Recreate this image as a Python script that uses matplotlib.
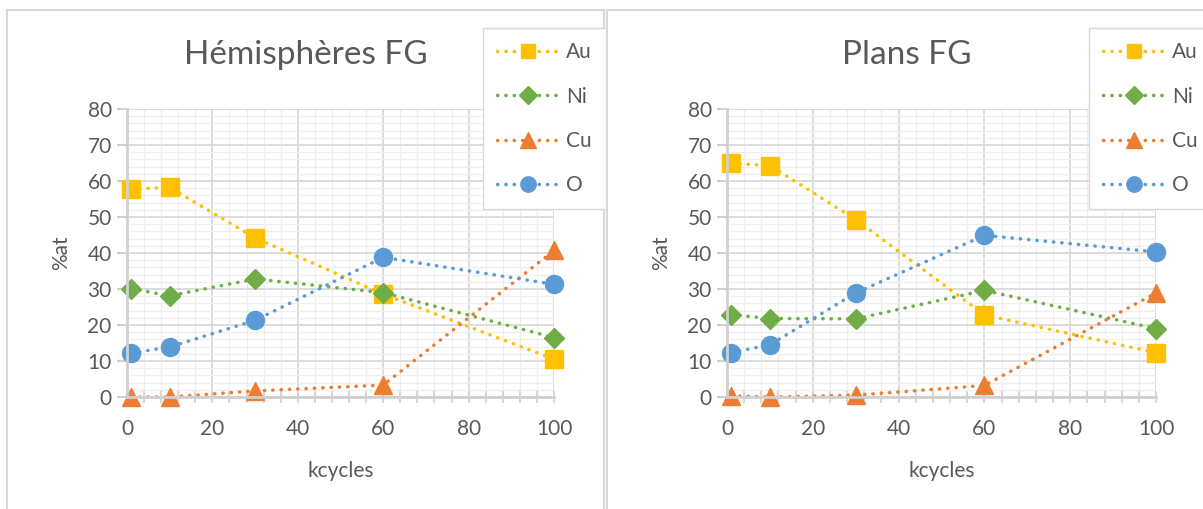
import numpy as np
import matplotlib
matplotlib.use('Agg')
import matplotlib.pyplot as plt
from matplotlib.patches import Rectangle
from matplotlib.lines import Line2D
from matplotlib.ticker import MultipleLocator

plt.rcParams['font.family'] = ['Lato', 'DejaVu Sans']

kcycles = [1, 10, 30, 60, 100]
series = ['Au', 'Ni', 'Cu', 'O']

# Hémisphères FG
hemi_au = [57.8, 58.2, 44.2, 28.6, 10.5]
hemi_ni = [30.1, 28.1, 32.8, 29.0, 16.5]
hemi_cu = [0.0, 0.0, 1.7, 3.3, 40.7]
hemi_o = [12.2, 13.9, 21.3, 38.8, 31.3]

# Plans FG
plans_au = [64.9, 64.3, 49.3, 22.8, 12.3]
plans_ni = [22.9, 21.8, 21.7, 29.6, 19.0]
plans_cu = [0.3, 0.0, 0.5, 3.2, 28.9]
plans_o = [12.3, 14.5, 28.9, 44.9, 40.3]

colors = {'Au': '#FFC000', 'Ni': '#70AD47', 'Cu': '#ED7D31', 'O': '#5B9BD5'}
markers = {'Au': ('s', 12.5), 'Ni': ('D', 10.5), 'Cu': ('^', 13), 'O': ('o', 13)}
txt = '#595959'
dots = (0, (0.1, 2.3))

W, H = 1203, 509
fig = plt.figure(figsize=(W / 100, H / 100), dpi=100)

# chart frames
for x0, x1 in [(7, 604), (607, 1210)]:
    fig.patches.append(Rectangle((x0 / W, -0.1), (x1 - x0) / W, (H - 10) / H + 0.1,
                                 transform=fig.transFigure, fill=False,
                                 edgecolor='#d9d9d9', lw=1.5))


def panel(left_px, right_px, title, data, leg_x):
    ax = fig.add_axes([left_px / W, 1 - 397 / H, (right_px - left_px) / W, (397 - 109) / H])
    for s, ys in zip(series, data):
        m, ms = markers[s]
        ax.plot(kcycles, ys, color=colors[s], lw=2.5, linestyle=dots,
                dash_capstyle='round', marker=m, markersize=ms,
                markeredgecolor=colors[s], label=s, clip_on=False)
    ax.set_xlim(0, 100)
    ax.set_ylim(0, 80)
    ax.xaxis.set_major_locator(MultipleLocator(20))
    ax.xaxis.set_minor_locator(MultipleLocator(4))
    ax.yaxis.set_major_locator(MultipleLocator(10))
    ax.yaxis.set_minor_locator(MultipleLocator(2))
    ax.grid(which='major', color='#d9d9d9', lw=1.3)
    ax.grid(which='minor', color='#eeeeee', lw=0.9)
    ax.set_axisbelow(True)
    for sp in ['top', 'right']:
        ax.spines[sp].set_visible(False)
    for sp in ['left', 'bottom']:
        ax.spines[sp].set_color('#d0d0d0')
        ax.spines[sp].set_linewidth(2)
    ax.tick_params(axis='y', which='major', direction='out', length=7, width=1.5,
                   color='#d0d0d0', labelsize=15, labelcolor=txt, pad=4)
    ax.tick_params(axis='y', which='minor', length=0)
    ax.tick_params(axis='x', which='both', direction='inout', length=8, width=1.2,
                   color='#d0d0d0', labelsize=15, labelcolor=txt, pad=12)
    ax.set_xlabel('kcycles', fontsize=15, color=txt, labelpad=16)
    ax.set_ylabel('%at', fontsize=15, color=txt, labelpad=12)
    fig.text(((left_px + right_px) / 2 - 35) / W, 1 - 55 / H, title, fontsize=24,
             color=txt, ha='center', va='center')
    handles = [Line2D([], [], color=colors[s], lw=2.5, linestyle=dots,
                      dash_capstyle='round', marker=markers[s][0],
                      markersize=markers[s][1] * 0.85, markeredgecolor=colors[s])
               for s in series]
    fig.legend(handles, series, loc='upper left',
               bbox_to_anchor=(leg_x / W, 1 - 28 / H), fontsize=15,
               labelcolor=txt, frameon=True, fancybox=False, edgecolor='#d9d9d9',
               framealpha=1, handlelength=3.0, labelspacing=1.17,
               borderpad=0.68, handletextpad=0.3, borderaxespad=0)
    return ax


panel(127, 554, 'Hémisphères FG', [hemi_au, hemi_ni, hemi_cu, hemi_o], 483)
panel(727, 1156, 'Plans FG', [plans_au, plans_ni, plans_cu, plans_o], 1089)

fig.savefig('out.png', dpi=100)
